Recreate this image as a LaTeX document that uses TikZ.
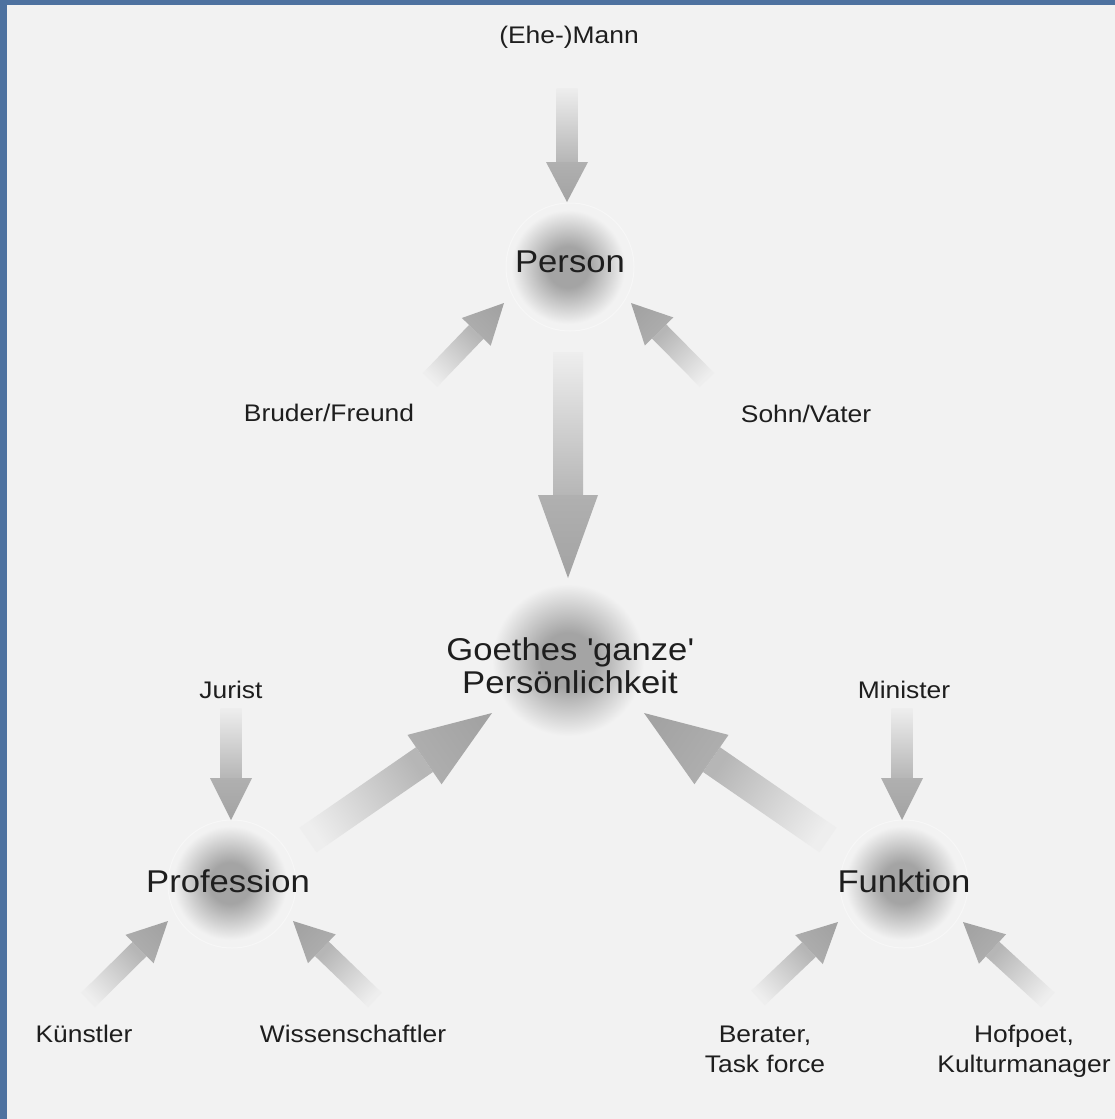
\documentclass[tikz,border=0pt]{standalone}
\usepackage{fontspec}
\setmainfont{Liberation Sans}[FakeStretch=1.1]
\usepackage{xcolor}
\usepackage{tikz}
\usetikzlibrary{arrows.meta,positioning,calc}

\definecolor{bgc}{HTML}{F2F2F2}
\definecolor{framec}{HTML}{4E72A0}
\definecolor{glowc}{HTML}{A4A4A4}
\definecolor{glowmid}{HTML}{CBCBCB}
\definecolor{tailc}{HTML}{EEEEEE}
\definecolor{shaftc}{HTML}{B6B6B6}
\definecolor{headbase}{HTML}{B0B0B0}
\definecolor{headtip}{HTML}{A3A3A3}
\definecolor{txtc}{HTML}{1E1E1E}

\pgfdeclareradialshading{glow}{\pgfpointorigin}{color(0bp)=(glowc); color(9bp)=(glowc); color(17bp)=(glowmid); color(25bp)=(bgc); color(50bp)=(bgc)}

% fat shaded arrow: tail, tip, half shaft, half head, head length
\newcommand\fatarrow[5]{%
  \pgfmathanglebetweenpoints{\pgfpointanchor{#1}{center}}{\pgfpointanchor{#2}{center}}%
  \let\tmpang\pgfmathresult
  \pgfmathsetmacro\arrang{\tmpang-90}%
  \coordinate (hb) at ($(#2)!#5!(#1)$);
  \shade[bottom color=tailc, top color=shaftc, shading angle=\arrang]
    ($(#1)!#3!90:(#2)$) -- ($(hb)!#3!90:(#2)$) -- ($(hb)!#3!-90:(#2)$) -- ($(#1)!#3!-90:(#2)$) -- cycle;
  \shade[bottom color=headbase, top color=headtip, shading angle=\arrang]
    ($(hb)!#4!90:(#2)$) -- (#2) -- ($(hb)!#4!-90:(#2)$) -- cycle;
}

\begin{document}
\begin{tikzpicture}[x=1pt, y=-1pt,
  lab/.style={font=\fontsize{24}{30}\selectfont, text=txtc, inner sep=0pt, anchor=base, align=center},
  hub/.style={font=\fontsize{31.5}{33}\selectfont, text=txtc, inner sep=0pt, anchor=base, align=center},
  ring/.style={draw=white, line width=1pt, opacity=.4}
]
\fill[framec] (0,0) rectangle (1115,1119);
\fill[bgc] (7,5) rectangle (1115,1119);
\useasboundingbox (0,0) rectangle (1115,1119);

% glows behind the hubs
\foreach \x/\y/\r in {568/267/57, 568/660/76, 230/883/57, 902/883/57}
  \shade[shading=glow] (\x,\y) circle (\r);
\foreach \x/\y in {570/267, 232/884, 904/884}
  \draw[ring] (\x,\y) circle (64);

% (base of a two-line node = baseline of its last line)
\node[lab] (mann) at (569,43) {(Ehe-)Mann};
\node[hub] (person) at (570,272) {Person};
\node[lab] (bruder) at (329,421) {Bruder/Freund};
\node[lab] (sohn) at (806,422) {Sohn/Vater};
\node[hub] (ganze) at (570,693) {Goethes \textquotesingle ganze\textquotesingle\\Persönlichkeit};
\node[lab] (jurist) at (231,698) {Jurist};
\node[lab] (minister) at (904,698) {Minister};
\node[hub] (profession) at (228,892) {Profession};
\node[hub] (funktion) at (904,892) {Funktion};
\node[lab] (kuenstler) at (84,1042) {Künstler};
\node[lab] (wissen) at (353,1042) {Wissenschaftler};
\node[lab] (berater) at (765,1072) {Berater,\\Task force};
\node[lab] (hofpoet) at (1024,1072) {Hofpoet,\\Kulturmanager};

% arrow ends
\coordinate (mann-a) at (567,88);     \coordinate (mann-b) at (567,202);
\coordinate (bruder-a) at (430,380);  \coordinate (bruder-b) at (504,303);
\coordinate (sohn-a) at (707,380);    \coordinate (sohn-b) at (631,303);
\coordinate (person-a) at (568,352);  \coordinate (person-b) at (568,578);
\coordinate (jurist-a) at (231,708);  \coordinate (jurist-b) at (231,820);
\coordinate (minister-a) at (902,708); \coordinate (minister-b) at (902,820);
\coordinate (kuenstler-a) at (88,1000); \coordinate (kuenstler-b) at (168,921);
\coordinate (wissen-a) at (375,1000); \coordinate (wissen-b) at (293,921);
\coordinate (berater-a) at (758,998); \coordinate (berater-b) at (838,922);
\coordinate (hofpoet-a) at (1048,1000); \coordinate (hofpoet-b) at (963,922);
\coordinate (profession-a) at (308,840); \coordinate (profession-b) at (492,713);
\coordinate (funktion-a) at (828,840); \coordinate (funktion-b) at (644,713);

\fatarrow{mann-a}{mann-b}{10.5pt}{21pt}{40pt}
\fatarrow{bruder-a}{bruder-b}{10pt}{20pt}{40pt}
\fatarrow{sohn-a}{sohn-b}{10pt}{20pt}{40pt}
\fatarrow{person-a}{person-b}{15pt}{30pt}{83pt}
\fatarrow{jurist-a}{jurist-b}{10.5pt}{21pt}{42pt}
\fatarrow{minister-a}{minister-b}{10.5pt}{21pt}{42pt}
\fatarrow{kuenstler-a}{kuenstler-b}{10pt}{20pt}{40pt}
\fatarrow{wissen-a}{wissen-b}{10pt}{20pt}{40pt}
\fatarrow{berater-a}{berater-b}{10pt}{20pt}{40pt}
\fatarrow{hofpoet-a}{hofpoet-b}{10pt}{20pt}{40pt}
\fatarrow{profession-a}{profession-b}{15pt}{30pt}{82pt}
\fatarrow{funktion-a}{funktion-b}{15pt}{30pt}{82pt}
\end{tikzpicture}
\end{document}
